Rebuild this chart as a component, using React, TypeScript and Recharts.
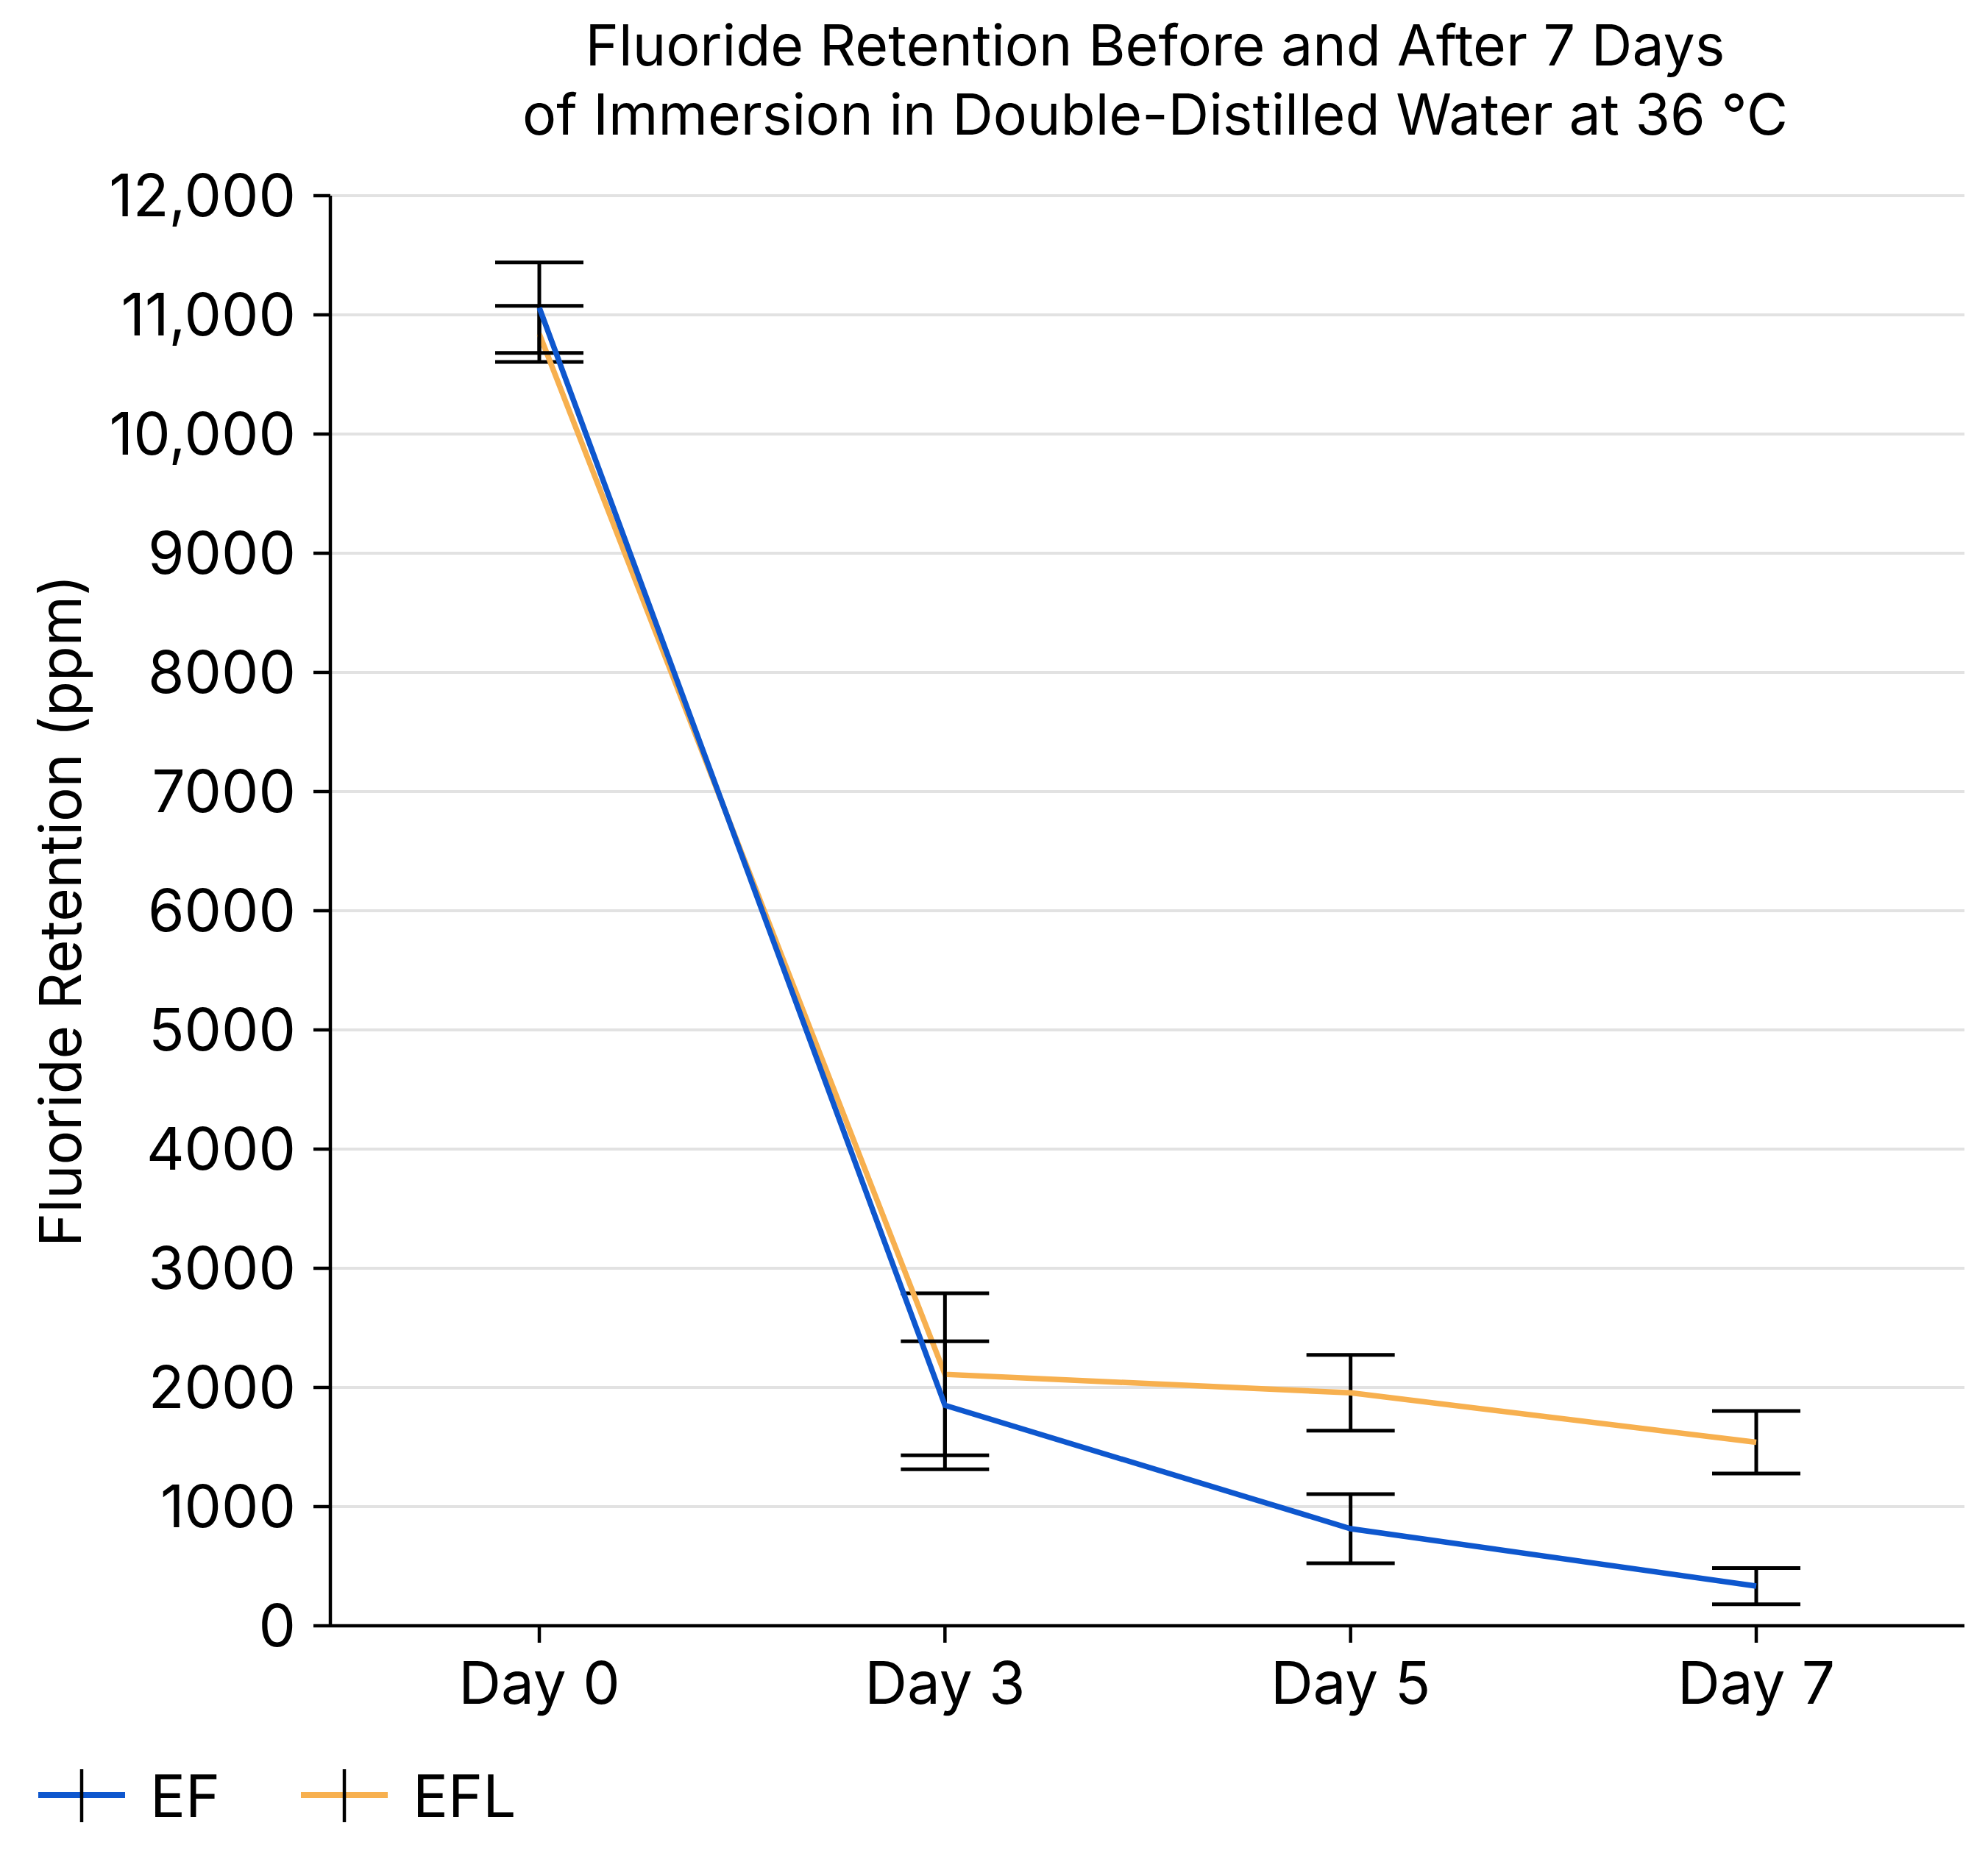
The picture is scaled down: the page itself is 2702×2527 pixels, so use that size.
import React from "react";
import { LineChart, Line, XAxis, YAxis, CartesianGrid, ErrorBar, Legend } from "recharts";

const days = ["Day 0", "Day 3", "Day 5", "Day 7"];
const efMean = [11060, 1850, 815, 333];
const efSd = [380, 537, 290, 152];
const eflMean = [10840, 2110, 1955, 1540];
const eflSd = [235, 680, 318, 262];
const yTicks = [0, 1000, 2000, 3000, 4000, 5000, 6000, 7000, 8000, 9000, 10000, 11000, 12000];

const series = [
    { name: "EF", key: "ef", err: "efErr", color: "#0E57CE" },
    { name: "EFL", key: "efl", err: "eflErr", color: "#F7B04F" },
];

const data = days.map((day, i) => ({
    day,
    ef: efMean[i],
    efErr: efSd[i],
    efl: eflMean[i],
    eflErr: eflSd[i],
}));

const FONT = "Inter, 'Noto Sans', sans-serif";

const formatTick = (v: number) => (v >= 10000 ? v.toLocaleString("en-US") : String(v));

const renderLegend = () => (
    <svg width={1000} height={100} style={{ display: "block" }}>
        {series.map((s, i) => {
            const x0 = 52 + i * 357;
            return (
                <g key={s.name}>
                    <line x1={x0} x2={x0 + 118} y1={50} y2={50} stroke={s.color} strokeWidth={8} />
                    <line x1={x0 + 59} x2={x0 + 59} y1={15} y2={87} stroke="#000" strokeWidth={4.5} />
                    <text x={x0 + 152} y={80} fontSize={80} fontFamily={FONT} fill="#000">
                        {s.name}
                    </text>
                </g>
            );
        })}
    </svg>
);

export default function App() {
    return (
        <div style={{ position: "absolute", left: 0, top: 0, width: 2702, height: 2527, background: "#fff", fontFamily: FONT }}>
            <div
                style={{
                    position: "absolute",
                    left: 370,
                    top: 14,
                    width: 2400,
                    textAlign: "center",
                    fontSize: 77,
                    lineHeight: "94px",
                    color: "#000",
                }}
            >
                Fluoride Retention Before and After 7 Days
                <br />
                of Immersion in Double-Distilled Water at 36 °C
            </div>
            <LineChart width={2702} height={2527} data={data} margin={{ top: 266, right: 32, bottom: 37, left: 0 }}>
                <CartesianGrid vertical={false} stroke="#e2e2e2" strokeWidth={4} />
                <XAxis
                    dataKey="day"
                    height={180}
                    padding={{ left: 284, right: 283 }}
                    axisLine={{ stroke: "#000", strokeWidth: 4.5 }}
                    tickLine={{ stroke: "#000", strokeWidth: 4.5 }}
                    tickSize={23}
                    tickMargin={26}
                    tick={{ fontSize: 80, fill: "#000", fontFamily: FONT }}
                />
                <YAxis
                    width={449}
                    domain={[0, 12000]}
                    ticks={yTicks}
                    interval={0}
                    tickFormatter={formatTick}
                    axisLine={{ stroke: "#000", strokeWidth: 4.5 }}
                    tickLine={{ stroke: "#000", strokeWidth: 4.5 }}
                    tickSize={23}
                    tickMargin={24}
                    tick={{ fontSize: 80, fill: "#000", fontFamily: FONT }}
                    label={{
                        value: "Fluoride Retention (ppm)",
                        angle: -90,
                        position: "insideLeft",
                        offset: 82,
                        style: { textAnchor: "middle", fontSize: 78, fill: "#000", fontFamily: FONT },
                    }}
                />
                <Legend verticalAlign="bottom" align="left" content={renderLegend} />
                {series
                    .slice()
                    .reverse()
                    .map((s) => (
                        <Line
                            key={s.key}
                            type="linear"
                            dataKey={s.key}
                            name={s.name}
                            stroke={s.color}
                            strokeWidth={7.5}
                            dot={false}
                            activeDot={false}
                            isAnimationActive={false}
                        >
                            <ErrorBar dataKey={s.err} direction="y" width={60} stroke="#000" strokeWidth={5} isAnimationActive={false} />
                        </Line>
                    ))}
            </LineChart>
        </div>
    );
}
